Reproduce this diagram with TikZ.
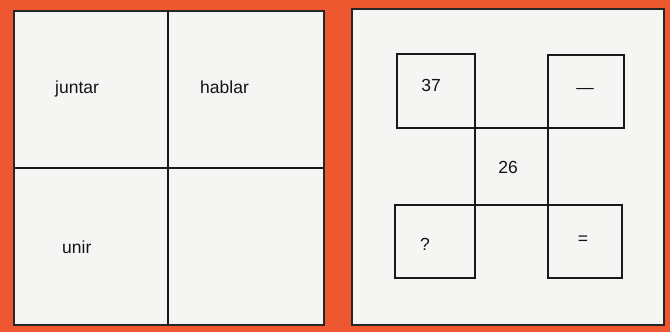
\documentclass[tikz,border=0pt]{standalone}
\usepackage{fontspec}
\setmainfont{Liberation Sans}
\definecolor{bgorange}{RGB}{238,88,48}
\definecolor{paper}{RGB}{245,245,243}
\begin{document}
\begin{tikzpicture}[x=1pt,y=-1pt,
  panel/.style={draw=black!85,line width=1.5pt,fill=paper},
  grid/.style={draw=black!90,line width=1.7pt},
  lbl/.style={inner sep=0pt,font=\fontsize{17.5}{20}\selectfont,text=black!92}]
\useasboundingbox (0,0) rectangle (670,332);
\fill[bgorange] (0,0) rectangle (670,332);
% left panel
\draw[panel] (14,11) rectangle (324,325);
\draw[grid] (168,11) -- (168,325);
\draw[grid] (14,168) -- (324,168);
\node[lbl,anchor=base west] (juntar) at (55,93) {juntar};
\node[lbl,anchor=base west] (hablar) at (200,93) {hablar};
\node[lbl,anchor=base west] (unir) at (62,253) {unir};
% right panel
\draw[panel] (352,9) rectangle (664,325);
\coordinate (tl1) at (397,54);  \coordinate (tl2) at (475,128);
\coordinate (tr1) at (548,55);  \coordinate (tr2) at (624,128);
\coordinate (bl1) at (395,205); \coordinate (bl2) at (475,278);
\coordinate (br1) at (548,205); \coordinate (br2) at (622,278);
\draw[grid] (tl1) rectangle (tl2);
\draw[grid] (tr1) rectangle (tr2);
\draw[grid] (bl1) rectangle (bl2);
\draw[grid] (br1) rectangle (br2);
\draw[grid] (tl2) -- (tr1 |- tl2);
\draw[grid] (tl2) -- (bl2 |- bl1);
\draw[grid] (tr1 |- tl2) -- (br1);
\draw[grid] (bl2 |- bl1) -- (br1);
\node[lbl] (n37) at (431,85) {37};
\node[lbl] (minus) at (585,91) {—};
\node[lbl] (n26) at (508,167) {26};
\node[lbl] (q) at (425,244) {?};
\node[lbl] (eq) at (583,240) {=};
\end{tikzpicture}
\end{document}
